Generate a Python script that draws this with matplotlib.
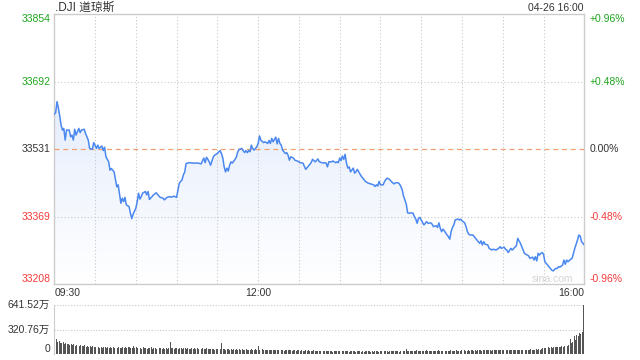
import numpy as np
import matplotlib
matplotlib.use('Agg')
import matplotlib.pyplot as plt
import matplotlib.transforms as mtransforms
from matplotlib.colors import LinearSegmentedColormap
from matplotlib.patches import Polygon

plt.rcParams['font.family'] = ['Liberation Sans', 'Noto Sans CJK SC', 'DejaVu Sans']

# Labels
title = '.DJI 道琼斯'
stamp = '04-26 16:00'
prev_close = 33531
price_ticks = [33208, 33369, 33531, 33692, 33854]
pct_labels = ['-0.96%', '-0.48%', '0.00%', '+0.48%', '+0.96%']
time_ticks = [0, 150, 390]
time_labels = ['09:30', '12:00', '16:00']
vol_ticks = [0, 320.76, 641.52]
vol_labels = ['0', '320.76万', '641.52万']

# minutes after 09:30 and index level
minutes = [0, 1, 2, 3, 4, 5, 6, 7, 8, 9,
           11, 12, 13, 14, 15, 16, 18, 19, 20, 22,
           23, 24, 25, 26, 28, 29, 31, 32, 33, 35,
           36, 37, 38, 40, 41, 42, 44, 45, 46, 47,
           49, 50, 51, 52, 53, 55, 56, 57, 58, 60,
           61, 62, 63, 64, 65, 67, 68, 69, 70, 72,
           73, 75, 77, 78, 80, 81, 83, 85, 86, 88,
           90, 91, 92, 94, 95, 96, 97, 99, 102, 106,
           108, 110, 111, 112, 113, 114, 115, 117, 118, 120,
           122, 123, 124, 125, 126, 127, 128, 129, 130, 131,
           133, 134, 135, 136, 138, 140, 141, 142, 143, 144,
           145, 146, 147, 149, 150, 151, 152, 154, 155, 157,
           158, 159, 160, 161, 163, 164, 165, 166, 167, 168,
           170, 171, 172, 173, 174, 176, 177, 178, 180, 181,
           183, 185, 187, 189, 190, 192, 194, 195, 197, 198,
           199, 200, 201, 202, 204, 205, 207, 208, 209, 210,
           211, 212, 213, 214, 215, 216, 217, 218, 220, 221,
           222, 223, 224, 226, 227, 228, 229, 231, 233, 235,
           236, 237, 238, 239, 240, 242, 243, 244, 245, 247,
           248, 249, 250, 251, 253, 254, 255, 256, 257, 259,
           260, 261, 263, 264, 265, 266, 267, 268, 269, 270,
           272, 273, 274, 275, 277, 278, 279, 281, 282, 283,
           284, 285, 286, 287, 289, 290, 291, 292, 293, 294,
           295, 297, 298, 299, 300, 302, 303, 304, 305, 306,
           308, 309, 310, 311, 312, 313, 314, 315, 316, 317,
           319, 320, 322, 323, 325, 327, 328, 329, 331, 332,
           333, 334, 336, 337, 339, 340, 341, 342, 343, 345,
           346, 348, 349, 350, 352, 353, 354, 355, 356, 357,
           358, 359, 360, 361, 363, 364, 365, 366, 367, 369,
           370, 371, 372, 374, 375, 376, 377, 378, 380, 381,
           382, 383, 385, 386, 387, 388, 390]
prices = [33615, 33619, 33645, 33630, 33611, 33589, 33577, 33581, 33553, 33577,
          33577, 33561, 33565, 33553, 33579, 33565, 33581, 33571, 33577, 33579,
          33569, 33561, 33553, 33533, 33531, 33547, 33533, 33541, 33533, 33539,
          33528, 33536, 33513, 33501, 33481, 33485, 33477, 33459, 33441, 33446,
          33402, 33414, 33406, 33416, 33398, 33394, 33378, 33365, 33376, 33390,
          33406, 33426, 33412, 33418, 33426, 33430, 33422, 33430, 33411, 33418,
          33422, 33427, 33419, 33416, 33414, 33410, 33416, 33418, 33416, 33419,
          33416, 33434, 33450, 33458, 33470, 33477, 33497, 33499, 33498, 33498,
          33496, 33510, 33499, 33512, 33507, 33501, 33493, 33513, 33517, 33521,
          33528, 33521, 33510, 33489, 33477, 33486, 33479, 33493, 33501, 33498,
          33507, 33513, 33525, 33531, 33533, 33523, 33528, 33523, 33528, 33525,
          33541, 33533, 33529, 33537, 33545, 33563, 33553, 33547, 33549, 33545,
          33552, 33545, 33557, 33549, 33560, 33544, 33557, 33545, 33541, 33529,
          33521, 33523, 33517, 33505, 33513, 33510, 33505, 33504, 33501, 33499,
          33498, 33483, 33491, 33499, 33507, 33501, 33508, 33501, 33499, 33498,
          33499, 33498, 33489, 33501, 33501, 33503, 33499, 33501, 33499, 33510,
          33504, 33515, 33507, 33519, 33498, 33486, 33489, 33477, 33486, 33474,
          33477, 33483, 33477, 33466, 33462, 33458, 33454, 33450, 33448, 33446,
          33442, 33446, 33443, 33454, 33446, 33446, 33454, 33459, 33462, 33458,
          33454, 33451, 33448, 33451, 33451, 33448, 33442, 33434, 33419, 33400,
          33379, 33378, 33379, 33378, 33370, 33364, 33354, 33366, 33368, 33362,
          33350, 33354, 33358, 33354, 33355, 33352, 33346, 33348, 33344, 33355,
          33342, 33334, 33340, 33336, 33326, 33322, 33316, 33334, 33344, 33350,
          33362, 33364, 33362, 33364, 33360, 33355, 33346, 33334, 33328, 33326,
          33326, 33322, 33318, 33314, 33310, 33306, 33312, 33302, 33310, 33304,
          33302, 33294, 33290, 33292, 33290, 33294, 33298, 33294, 33297, 33292,
          33290, 33284, 33294, 33290, 33297, 33300, 33318, 33312, 33306, 33290,
          33282, 33278, 33276, 33270, 33273, 33266, 33274, 33264, 33282, 33278,
          33282, 33284, 33280, 33262, 33254, 33250, 33246, 33242, 33240, 33246,
          33246, 33250, 33249, 33254, 33266, 33256, 33266, 33262, 33268, 33270,
          33282, 33294, 33314, 33326, 33323, 33310, 33302]

# per-minute volume, in 万
volumes = [240, 195, 160, 175, 150, 140, 155, 130, 145, 125,
           135, 120, 130, 118, 125, 110, 122, 115, 105, 118,
           110, 100, 112, 98, 105, 95, 108, 92, 100, 96,
           88, 98, 90, 85, 95, 80, 92, 86, 78, 90,
           82, 88, 76, 92, 80, 85, 74, 90, 78, 84,
           95, 80, 88, 76, 86, 92, 78, 84, 100, 82,
           90, 76, 85, 80, 72, 88, 78, 84, 70, 82,
           76, 86, 72, 80, 78, 68, 84, 74, 80, 70,
           78, 72, 82, 68, 76, 160, 74, 80, 70, 78,
           85, 72, 80, 76, 70, 82, 74, 68, 78, 72,
           66, 76, 70, 80, 64, 74, 68, 72, 62, 76,
           70, 66, 74, 60, 72, 68, 64, 70, 58, 68,
           72, 62, 66, 140, 60, 70, 58, 66, 62, 56,
           64, 58, 68, 54, 62, 56, 60, 52, 64, 58,
           54, 62, 50, 58, 56, 60, 52, 56, 62, 54,
           105, 58, 52, 60, 50, 56, 54, 48, 58, 52,
           56, 50, 54, 48, 58, 52, 46, 54, 50, 44,
           52, 48, 56, 46, 50, 44, 52, 48, 42, 50,
           46, 40, 48, 44, 38, 46, 42, 50, 40, 44,
           38, 46, 42, 36, 44, 40, 34, 42, 38, 44,
           36, 40, 34, 42, 38, 32, 40, 36, 44, 34,
           38, 62, 40, 34, 42, 36, 40, 32, 38, 34,
           40, 36, 30, 38, 34, 40, 32, 36, 30, 38,
           34, 40, 36, 32, 38, 30, 36, 34, 40, 32,
           36, 38, 32, 40, 34, 36, 30, 38, 34, 40,
           36, 42, 34, 38, 32, 40, 36, 44, 38, 62,
           40, 36, 44, 38, 42, 34, 40, 46, 38, 42,
           36, 44, 40, 38, 46, 34, 42, 38, 44, 40,
           36, 42, 38, 46, 40, 44, 36, 48, 42, 38,
           44, 40, 46, 38, 42, 36, 48, 40, 44, 42,
           46, 38, 50, 44, 40, 48, 42, 52, 46, 44,
           50, 42, 48, 46, 52, 44, 50, 48, 54, 46,
           50, 48, 44, 52, 46, 50, 54, 48, 46, 52,
           48, 54, 50, 46, 52, 48, 56, 50, 54, 48,
           52, 56, 50, 54, 58, 52, 56, 50, 58, 54,
           56, 60, 52, 58, 54, 62, 56, 60, 58, 64,
           82, 76, 84, 78, 86, 80, 88, 84, 90, 86,
           92, 88, 96, 90, 100, 94, 104, 98, 110, 118,
           195, 150, 162, 236, 180, 250, 240, 275, 260, 285,
           641.52]

GREEN = '#1ea51e'
RED = '#f23a3a'
DARK = '#333333'
BORDER = '#cccccc'
GRID = '#c8c8c8'
tick_colors = [RED, RED, DARK, GREEN, GREEN]

W, H = 640, 360
fig = plt.figure(figsize=(6.4, 3.6), dpi=100)
ax = fig.add_axes([54.3 / W, 1 - 284.3 / H, 530 / W, 270 / H])
axv = fig.add_axes([54.3 / W, 6 / H, 530 / W, 49 / H])

lo, hi = price_ticks[0], price_ticks[-1]
t_end = time_ticks[-1]

# gradient fill under the line
verts = np.column_stack([np.r_[minutes[0], minutes, minutes[-1]],
                         np.r_[lo, prices, lo]])
poly = Polygon(verts, closed=True, facecolor='none', edgecolor='none')
ax.add_patch(poly)
cmap = LinearSegmentedColormap.from_list('fill', ['#ffffff', '#d9e5fb'])
grad = np.linspace(0, 1, 256).reshape(-1, 1)
im = ax.imshow(grad, extent=[0, t_end, lo, hi], origin='lower',
               aspect='auto', cmap=cmap, zorder=1)
im.set_clip_path(poly)

ax.plot(minutes, prices, color='#4a88f0', lw=1.1, zorder=4)

# grid
for m in range(30, t_end, 30):
    ax.axvline(m, color=GRID, ls=(0, (1, 2)), lw=0.8, zorder=2)
for p in [price_ticks[1], price_ticks[3]]:
    ax.axhline(p, color=GRID, ls=(0, (1, 2)), lw=0.8, zorder=2)
ax.axhline(prev_close, color='#f0a070', ls=(0, (4, 3)), lw=0.9, zorder=3)

ax.set_xlim(0, t_end)
ax.set_ylim(lo, hi)
ax.set_xticks([])
ax.set_yticks([])
for s in ax.spines.values():
    s.set_color(BORDER)
    s.set_linewidth(1.0)

ytrans = mtransforms.blended_transform_factory(ax.transAxes, ax.transData)
for i, p in enumerate(price_ticks):
    va = 'bottom' if i == 0 else ('top' if i == len(price_ticks) - 1 else 'center')
    ax.text(-0.0062, p, str(p), ha='right', va=va, fontsize=7.5,
            color=tick_colors[i], transform=ytrans)
    ax.text(1.0094, p, pct_labels[i], ha='left', va=va, fontsize=7.5,
            color=tick_colors[i], transform=ytrans)

xtrans = mtransforms.blended_transform_factory(ax.transData, ax.transAxes)
aligns = ['left', 'center', 'right']
for t, lab, a in zip(time_ticks, time_labels, aligns):
    ax.text(t, -0.032, lab, ha=a, va='center', fontsize=7.5, color=DARK,
            transform=xtrans)

ax.text(0.939, 0.02, 'sina.com', ha='center', va='center', fontsize=7.5,
        color='#d6d6d6', transform=ax.transAxes, zorder=3)

fig.text(55 / W, 1 - 8.3 / H, title, ha='left', va='center', fontsize=8.5, color=DARK)
fig.text(584 / W, 1 - 8.3 / H, stamp, ha='right', va='center', fontsize=7.5, color=DARK)

# volume panel
axv.bar(range(len(volumes)), volumes, width=0.7, color='#555555', linewidth=0)
axv.set_xlim(-0.5, t_end + 0.5)
axv.set_ylim(0, vol_ticks[-1])
for v in vol_ticks[1:]:
    axv.axhline(v, color=GRID, ls=(0, (1, 1.5)), lw=0.8, zorder=0)
axv.set_xticks([])
axv.set_yticks([])
for k in ['top', 'right', 'bottom']:
    axv.spines[k].set_visible(False)
axv.spines['left'].set_color(BORDER)
vtrans = mtransforms.blended_transform_factory(axv.transAxes, axv.transData)
for v, lab in zip(vol_ticks, vol_labels):
    va = 'bottom' if v == 0 else 'center'
    axv.text(-0.008, v, lab, ha='right', va=va, fontsize=7.5, color=DARK,
             transform=vtrans)

fig.savefig('out.png', dpi=100)
